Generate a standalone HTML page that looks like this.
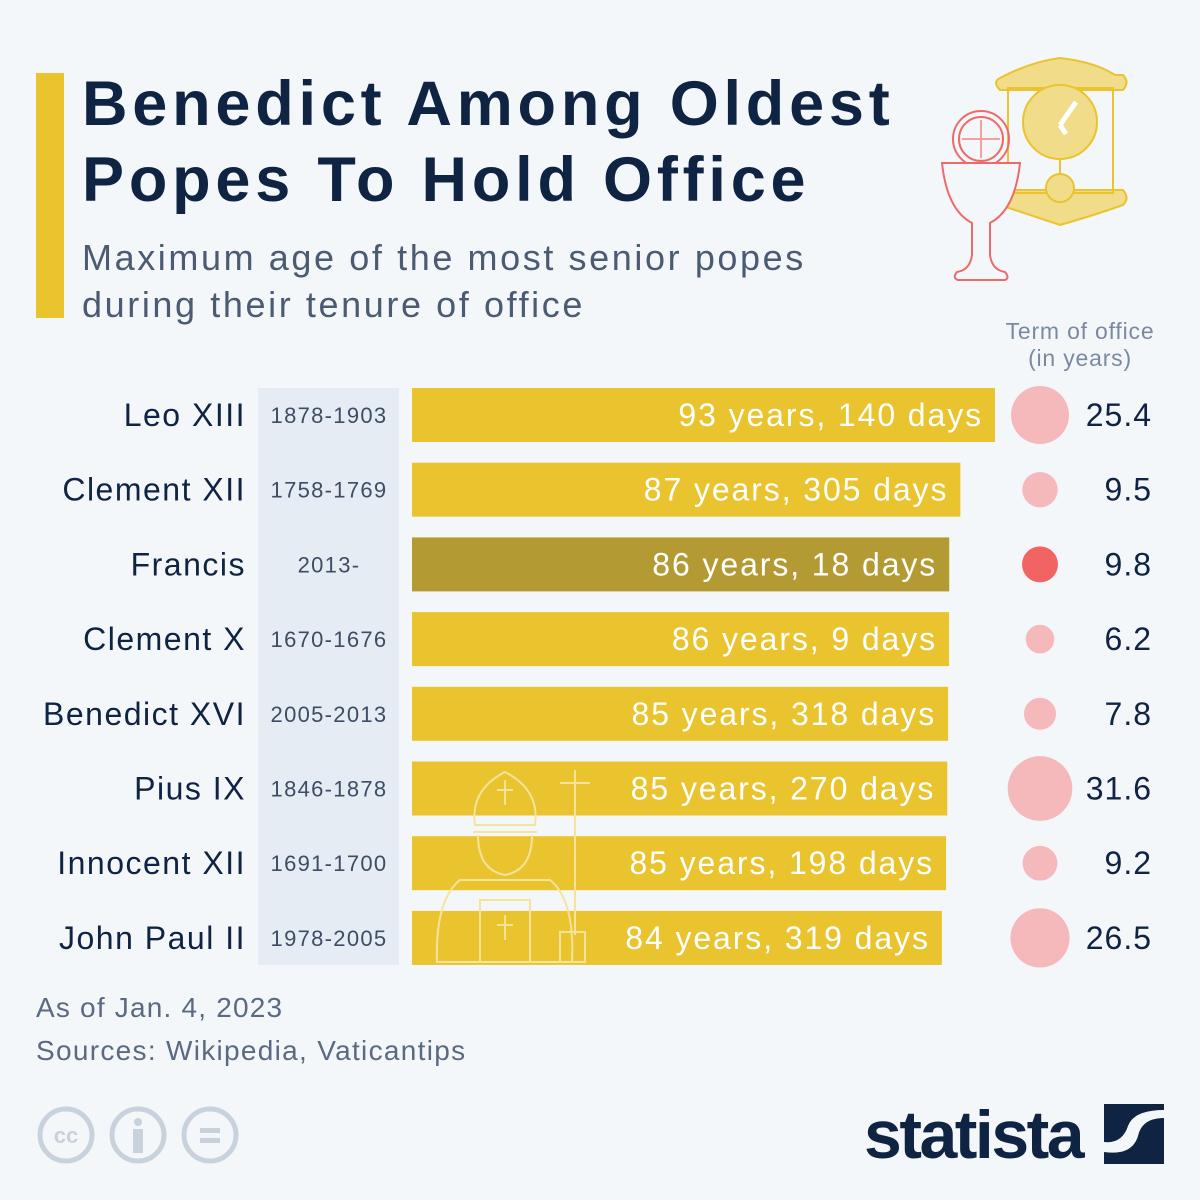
<!DOCTYPE html>
<html><head><meta charset="utf-8">
<style>
body{margin:0;width:1200px;height:1200px;background:#f4f7fa;font-family:"Liberation Sans",sans-serif;overflow:hidden;position:relative}
.abs{position:absolute}
#title{left:82px;top:66px;font-size:63px;font-weight:bold;color:#0f2342;line-height:76px;letter-spacing:4.8px}
#sub{left:82px;top:234px;font-size:36px;color:#4b5b72;line-height:47px;letter-spacing:2.6px}
</style></head>
<body>
<div class="abs" style="left:36px;top:73px;width:28px;height:245px;background:#e9c42f"></div>
<div id="title" class="abs">Benedict Among Oldest<br>Popes To Hold Office</div>
<div id="sub" class="abs">Maximum age of the most senior popes<br>during their tenure of office</div>
<svg class="abs" style="left:930px;top:50px" width="240" height="240">
<g fill="#f1dc8a" stroke="#e9c42f" stroke-width="2">
<path d="M70 28 Q100 12 130 8 Q165 12 185 25 L193 25 Q200 32 193 40 L70 40 Q62 32 70 28Z"/>
<path d="M70 140 L193 140 Q200 148 193 155 Q165 165 130 175 Q100 165 70 155Z"/>
<rect x="78" y="38" width="105" height="105" fill="none"/>
<circle cx="130" cy="72" r="37"/>
<circle cx="130" cy="138" r="14"/>
<line x1="130" y1="108" x2="130" y2="125"/>
</g>
<path d="M130 75 L146 52" stroke="#fff" stroke-width="5"/>
<path d="M130 75 L136 84" stroke="#fff" stroke-width="5"/>
<g fill="none" stroke="#ee6a6a" stroke-width="2">
<circle cx="51" cy="89" r="28"/><circle cx="51" cy="89" r="22"/>
<path d="M51 70 V108 M32 89 H70" stroke="#f2a0a0"/>
<path d="M12 113 H90 Q85 160 60 173 V205 Q62 220 75 222 Q80 228 75 230 H28 Q22 228 27 222 Q40 220 42 205 V173 Q17 160 12 113Z" fill="#f4f7fa"/>
</g>
</svg>
<div class="abs" style="left:985px;top:318px;width:190px;text-align:center;font-size:23px;color:#7a8aa0;line-height:27px;letter-spacing:0.8px">Term of office<br>(in years)</div>
<div class="abs" style="left:258px;top:388px;width:141px;height:577px;background:#e6ecf4"></div>
<svg id="chart" class="abs" style="left:0;top:0" width="1200" height="1000"></svg>
<div class="abs" style="left:36px;top:992px;font-size:28px;color:#5a6a80;letter-spacing:1.2px">As of Jan. 4, 2023</div>
<div class="abs" style="left:36px;top:1035px;font-size:28px;color:#5a6a80;letter-spacing:1.3px">Sources: Wikipedia, Vaticantips</div>
<svg class="abs" style="left:30px;top:1100px" width="220" height="70">
<g fill="none" stroke="#c8d2dc" stroke-width="5"><circle cx="36" cy="35" r="26"/><circle cx="108" cy="35" r="26"/><circle cx="180" cy="35" r="26"/></g>
<text x="36" y="43" text-anchor="middle" font-size="22" font-weight="bold" fill="#c8d2dc">cc</text>
<circle cx="108" cy="22" r="4" fill="#c8d2dc"/><rect x="103" y="29" width="10" height="24" fill="#c8d2dc"/>
<rect x="170" y="28" width="20" height="5" fill="#c8d2dc"/><rect x="170" y="38" width="20" height="5" fill="#c8d2dc"/>
</svg>
<div class="abs" style="left:864px;top:1096px;font-size:68px;font-weight:bold;color:#0f2342;letter-spacing:-2.5px">statista</div>
<svg class="abs" style="left:1104px;top:1104px" width="60" height="60">
<rect width="60" height="60" fill="#0f2342"/><path d="M0 38 Q18 40 24 22 Q30 6 60 6 V14 Q38 14 34 32 Q28 52 0 48Z" fill="#f4f7fa"/>
</svg>
<script>
const names=["Leo XIII","Clement XII","Francis","Clement X","Benedict XVI","Pius IX","Innocent XII","John Paul II"];
const periods=["1878-1903","1758-1769","2013-","1670-1676","2005-2013","1846-1878","1691-1700","1978-2005"];
const ageYears=[93,87,86,86,85,85,85,84];
const ageDays=[140,305,18,9,318,270,198,319];
const terms=[25.4,9.5,9.8,6.2,7.8,31.6,9.2,26.5];
const highlight=[false,false,true,false,false,false,false,false];
const svg=document.getElementById('chart');
const NS='http://www.w3.org/2000/svg';
const x0=412,pxPerYear=583/(93+140/365);
function xs(v){return x0+v*pxPerYear;}
function yc(i){return 415+i*74.7;}
function rs(t){return 5.75*Math.sqrt(t);}
function mk(tag,attrs,txt){const e=document.createElementNS(NS,tag);for(const k in attrs)e.setAttribute(k,attrs[k]);if(txt!==undefined)e.textContent=txt;svg.appendChild(e);return e;}
names.forEach((n,i)=>{
 const age=ageYears[i]+ageDays[i]/365,y=yc(i);
 const bar=mk('rect',{x:x0,y:y-27,width:xs(age)-x0,height:54,fill:highlight[i]?'#b49a32':'#e9c42f'});
 
 
 const lb=mk('text',{x:xs(age)-12,y:y+11,'text-anchor':'end','font-size':32,fill:'#fff','letter-spacing':1.9},ageYears[i]+' years, '+ageDays[i]+' days');
 
 
 const nm=mk('text',{x:246,y:y+11,'text-anchor':'end','font-size':32,fill:'#0f2342','letter-spacing':1.5},n);
 
 
 const pd=mk('text',{x:329,y:y+8,'text-anchor':'middle','font-size':22,fill:'#3d4d64','letter-spacing':1.3},periods[i]);
 
 
 const c=mk('circle',{cx:1040,cy:y,r:rs(terms[i]),fill:highlight[i]?'#f26464':'#f5b9bc'});
 
 
 const tv=mk('text',{x:1152,y:y+11,'text-anchor':'end','font-size':32,fill:'#0f2342','letter-spacing':1},terms[i].toFixed(1));
 
 
});
const g=mk('g',{fill:'none',stroke:'#f6e39a','stroke-width':2});


g.innerHTML='<path d="M475 825 Q470 790 505 772 Q540 790 535 825Z"/><path d="M473 832 H537 M505 780 V805 M497 790 H513"/><path d="M478 835 Q478 870 505 875 Q532 870 532 835"/><path d="M460 880 Q435 900 437 962 H572 Q575 900 550 880 Z"/><rect x="480" y="900" width="50" height="62"/><path d="M505 915 V940 M497 925 H513"/><path d="M575 770 V935 M560 783 H590"/><rect x="560" y="932" width="25" height="30"/>';
svg.appendChild(g);
</script>
</body></html>
